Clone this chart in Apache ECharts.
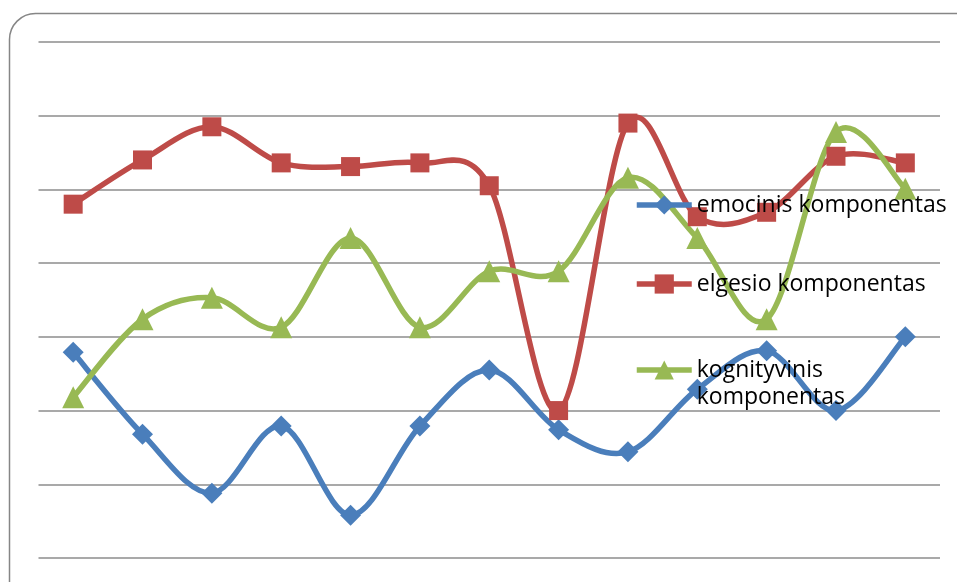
<!DOCTYPE html>
<html><head><meta charset="utf-8">
<script src="https://cdn.jsdelivr.net/npm/echarts@6/dist/echarts.min.js"></script>
<style>html,body{margin:0;padding:0;background:#fff}#c{width:957px;height:582px}</style>
</head><body><div id="c"></div>
<script>
var categories = ['1','2','3','4','5','6','7','8','9','10','11','12','13'];
var emocinis = [2.79, 1.68, 0.88, 1.79, 0.58, 1.79, 2.55, 1.74, 1.44, 2.29, 2.81, 2.0, 3.0];
var elgesio = [4.80, 5.40, 5.85, 5.36, 5.31, 5.36, 5.05, 2.0, 5.90, 4.63, 4.69, 5.45, 5.36];
var kognityvinis = [2.18, 3.24, 3.53, 3.13, 4.34, 3.13, 3.89, 3.89, 5.16, 4.34, 3.24, 5.78, 5.01];
var names = ['emocinis komponentas', 'elgesio komponentas', 'kognityvinis komponentas'];
var colors = ['#4A7EBB', '#BE4B48', '#98B954'];
var seriesValues = [emocinis, elgesio, kognityvinis];
var symbols = ['diamond', 'rect', 'triangle'];
var symbolSizes = [21, 19, 22];
var LW = 5.5;

var chart = echarts.init(document.getElementById('c'));
var font = 'Open Sans';

function leg(i, top, formatter) {
  return {
    data: [names[i]], orient: 'vertical', left: 634, top: top,
    itemWidth: 55, itemHeight: 24, itemGap: 0, padding: 0,
    lineStyle: {width: LW, color: colors[i], opacity: 1},
    textStyle: {fontFamily: font, fontSize: 23, color: '#000', lineHeight: 27},
    formatter: formatter,
    selectedMode: false
  };
}

// Excel-like smoothed curve (Catmull-Rom Bezier) through the data, positioned by the axes
function curveSeries(i) {
  var values = seriesValues[i];
  return {
    type: 'custom', name: names[i] + ' curve', z: 2, silent: true,
    data: values.map(function (v, k) { return [k, v]; }),
    renderItem: function (params, api) {
      if (params.dataIndex !== 0) return null;
      var p = values.map(function (v, k) { return api.coord([k, v]); });
      var n = p.length, children = [];
      for (var k = 0; k < n - 1; k++) {
        var p0 = p[Math.max(k - 1, 0)], p1 = p[k], p2 = p[k + 1], p3 = p[Math.min(k + 2, n - 1)];
        children.push({
          type: 'bezierCurve',
          shape: {
            x1: p1[0], y1: p1[1], x2: p2[0], y2: p2[1],
            cpx1: p1[0] + (p2[0] - p0[0]) / 6, cpy1: p1[1] + (p2[1] - p0[1]) / 6,
            cpx2: p2[0] - (p3[0] - p1[0]) / 6, cpy2: p2[1] - (p3[1] - p1[1]) / 6
          },
          style: {fill: null, stroke: colors[i], lineWidth: LW, lineCap: 'round'}
        });
      }
      return {type: 'group', children: children};
    }
  };
}

function markerSeries(i) {
  return {
    name: names[i], type: 'line', data: seriesValues[i], z: 3,
    symbol: symbols[i], symbolSize: symbolSizes[i], showSymbol: true,
    lineStyle: {width: 0, opacity: 0, color: colors[i]},
    itemStyle: {color: colors[i]}
  };
}

chart.setOption({
  animation: false,
  graphic: [{
    type: 'rect', shape: {x: 9.5, y: 13.5, width: 980, height: 620, r: 26},
    style: {fill: 'none', stroke: '#868686', lineWidth: 1.5}, z: -10
  }],
  grid: {left: 38.5, right: 17, top: 42, bottom: 24},
  legend: [
    leg(0, 191.5),
    leg(1, 270.5),
    leg(2, 329.5, function () { return '\nkognityvinis\nkomponentas'; })
  ],
  xAxis: {
    type: 'category', data: categories, boundaryGap: true,
    axisLine: {show: false}, axisTick: {show: false}, axisLabel: {show: false}
  },
  yAxis: {
    type: 'value', min: 0, max: 7, interval: 1,
    axisLine: {show: false}, axisTick: {show: false}, axisLabel: {show: false},
    splitLine: {lineStyle: {color: '#8C8C8C', width: 1.5}}
  },
  series: [
    curveSeries(0), curveSeries(1), curveSeries(2),
    markerSeries(0), markerSeries(1), markerSeries(2)
  ]
});
</script></body></html>
